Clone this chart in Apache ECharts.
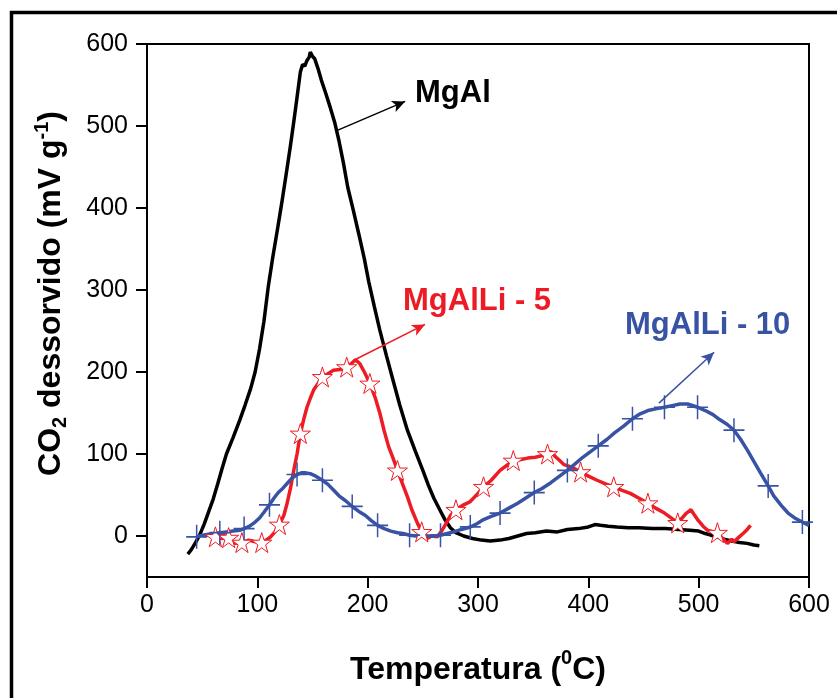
<!DOCTYPE html>
<html>
<head>
<meta charset="utf-8">
<script src="https://cdn.jsdelivr.net/npm/echarts@6/dist/echarts.min.js"></script>
<style>
  html, body { margin: 0; padding: 0; background: #fff; }
  #chart { width: 837px; height: 698px; }
</style>
</head>
<body>
<div id="chart"></div>
<script>
// Axis ticks
const xTicks = [0, 100, 200, 300, 400, 500, 600];
const yTicks = [0, 100, 200, 300, 400, 500, 600];

// CO2 TPD profiles: [temperature (°C), signal (mV g-1)]
const mgAl = [
  [37,-22],[40,-17],[44,-8],[48,2],[52,15],[56,30],[60,45],[64,63],[68,82],[72,100],
  [78,120],[84,141],[89,160],[94,180],[98,200],[102,228],[106,262],[110,305],[114,340],
  [118,372],[122,405],[126,440],[130,476],[133,505],[136,535],[139,566],[141,575],[143,573],
  [145,580],[147,584],[148,590],[150,585],[152,582],[155,570],[158,556],[162,540],[166,523],
  [170,505],[174,482],[178,455],[182,425],[187,397],[192,368],[197,338],[201,310],[206,280],
  [211,251],[217,220],[223,190],[229,160],[236,129],[243,104],[250,80],[255,62],[260,46],
  [265,33],[270,20],[275,10],[280,4],[287,0],[295,-3],[303,-5],[311,-6],[320,-5],[328,-3],
  [336,0],[344,3],[352,4],[362,6],[372,5],[381,8],[391,9],[400,11],[406,14],[411,13],
  [418,12],[426,11],[436,10],[446,10],[458,9],[470,9],[482,8],[492,7],[500,6],[506,3],
  [511,1],[517,-1],[523,-4],[530,-6],[537,-8],[544,-9],[550,-11],[555,-12]
];

const mgAlLi5 = [
  [51,0],[56,2],[62,-1],[68,-3],[74,-2],[80,-9],[86,-8],[92,-5],[98,-7],[104,-8],
  [108,-5],[112,-1],[116,5],[120,14],[124,25],[127,40],[130,58],[133,80],[136,100],
  [139,125],[142,142],[145,157],[148,168],[151,178],[155,186],[159,194],[164,198],
  [169,202],[175,203],[181,206],[185,210],[189,215],[193,210],[197,200],[202,186],
  [207,168],[211,150],[215,128],[219,109],[223,95],[227,80],[232,62],[236,48],[240,32],
  [245,16],[249,5],[254,-3],[258,0],[263,-1],[267,6],[271,15],[275,25],[280,32],[287,38],
  [293,42],[300,52],[305,60],[312,68],[320,80],[326,86],[332,92],[338,93],[345,95],
  [352,96],[358,98],[363,100],[366,103],[370,97],[374,92],[378,87],[385,84],[393,78],
  [400,73],[408,68],[415,64],[423,60],[430,56],[438,52],[446,46],[454,40],[461,34],
  [469,28],[475,22],[481,16],[485,22],[489,28],[493,32],[496,26],[499,20],[504,12],
  [508,7],[513,5],[517,4],[521,-2],[526,-9],[530,-4],[532,-7],[536,-2],[541,4],[544,8],[547,13]
];

const mgAlLi10 = [
  [45,-1],[50,1],[56,2],[61,3],[66,4],[72,5],[78,6],[84,7],[88,9],[93,12],[98,17],
  [102,22],[106,29],[111,38],[115,46],[119,53],[123,58],[127,64],[131,70],[136,75],
  [140,77],[144,77],[148,76],[153,73],[159,68],[164,63],[169,56],[174,49],[180,43],
  [186,36],[192,30],[198,25],[203,19],[209,13],[215,9],[221,6],[227,4],[232,3],[238,1],
  [244,0],[250,0],[256,0],[261,0],[266,1],[272,3],[278,5],[285,8],[293,11],[299,15],
  [305,20],[312,24],[320,28],[328,34],[336,40],[343,46],[351,53],[358,58],[366,65],
  [373,72],[381,80],[388,88],[395,96],[402,103],[409,110],[417,118],[424,126],[432,134],
  [440,143],[447,149],[454,153],[461,155],[469,157],[476,159],[483,161],[490,161],
  [499,157],[506,153],[513,148],[519,142],[526,136],[532,129],[538,118],[544,105],
  [550,91],[556,77],[563,61],[568,49],[575,37],[581,28],[587,22],[594,17],[600,13]
];

// Temperatures carrying the series markers
const mgAlLi5Stars = [62,74,86,104,120,139,159,181,202,227,249,280,305,332,363,393,423,454,481,517];
const mgAlLi10Crosses = [45,66,88,111,136,159,186,209,238,266,293,320,351,381,409,440,469,499,532,563,594];

const RED = '#ED1C24';
const BLUE = '#3953A4';
const STAR = 'path://M10,0L12.245,6.91L19.511,6.91L13.633,11.18L15.878,18.09L10,13.82L4.122,18.09L6.367,11.18L0.489,6.91L7.755,6.91Z';
const CROSS = 'path://M0,10L20,10M10,0L10,20';
const FONT = 'Liberation Sans';

function withMarkers(points, temps, symbol, size, style) {
  const marked = new Set(temps);
  return points.map(p => marked.has(p[0])
    ? { value: p, symbol: symbol, symbolSize: size, itemStyle: style }
    : { value: p, symbol: 'none' });
}

function arrow(color, from, to) {
  return {
    silent: true,
    symbol: ['none', 'arrow'],
    symbolSize: [9, 13],
    lineStyle: { color: color, width: 1.5, type: 'solid' },
    label: { show: false },
    data: [[{ coord: from }, { coord: to }]]
  };
}

const chart = echarts.init(document.getElementById('chart'), null, { renderer: 'canvas' });

const axisFont = { fontFamily: FONT, fontSize: 25, color: '#000' };
const titleRich = (size, align) => ({ fontFamily: FONT, fontWeight: 'bold', fontSize: size, color: '#000', lineHeight: 38, verticalAlign: align });

chart.setOption({
  animation: false,
  backgroundColor: '#fff',
  grid: {
    left: 147, right: 28, top: 44, bottom: 121,
    show: true, borderColor: '#000', borderWidth: 2, backgroundColor: 'transparent'
  },
  xAxis: {
    type: 'value', min: 0, max: 600, interval: 100,
    axisLine: { show: true, onZero: false, lineStyle: { color: '#000', width: 2 } },
    axisTick: { show: true, inside: false, length: 11, lineStyle: { color: '#000', width: 2 }, customValues: xTicks },
    axisLabel: { ...axisFont, margin: 16, customValues: xTicks },
    splitLine: { show: false },
    name: '{t|Temperatura (}{s|0}{t|C)}',
    nameLocation: 'middle',
    nameGap: 71,
    nameTextStyle: {
      rich: { t: titleRich(32, 'bottom'), s: titleRich(20, 'top') }
    }
  },
  yAxis: {
    type: 'value', min: -50, max: 600,
    axisLine: { show: true, onZero: false, lineStyle: { color: '#000', width: 2 } },
    axisTick: { show: true, inside: false, length: 11, lineStyle: { color: '#000', width: 2 }, customValues: yTicks },
    axisLabel: { ...axisFont, margin: 19, customValues: yTicks },
    splitLine: { show: false },
    name: '{t|CO}{b|2}{t| dessorvido (mV g}{s|-1}{t|)}',
    nameLocation: 'middle',
    nameGap: 77,
    nameRotate: 90,
    nameTextStyle: {
      padding: [0, 0, 0, 34],
      rich: { t: titleRich(32, 'middle'), b: titleRich(20, 'bottom'), s: titleRich(20, 'top') }
    }
  },
  series: [
    {
      name: 'MgAl', type: 'line', data: mgAl,
      symbol: 'none', lineStyle: { color: '#000', width: 3.5 },
      markLine: arrow('#000', [173, 495], [234, 530])
    },
    {
      name: 'MgAlLi - 5', type: 'line',
      data: withMarkers(mgAlLi5, mgAlLi5Stars, STAR, 20, { color: '#fff', borderColor: RED, borderWidth: 1 }),
      showAllSymbol: true,
      lineStyle: { color: RED, width: 3.5 }, itemStyle: { color: RED },
      markLine: arrow(RED, [187, 214], [252, 258])
    },
    {
      name: 'MgAlLi - 10', type: 'line',
      data: withMarkers(mgAlLi10, mgAlLi10Crosses, CROSS, [21, 24], { color: BLUE, borderColor: BLUE, borderWidth: 1.6 }),
      showAllSymbol: true,
      lineStyle: { color: BLUE, width: 3.5 }, itemStyle: { color: BLUE },
      markLine: arrow(BLUE, [464, 162], [514, 224])
    }
  ],
  graphic: [
    // page frame
    { type: 'rect', shape: { x: 11.5, y: 12.5, width: 900, height: 800 },
      style: { fill: 'none', stroke: '#000', lineWidth: 3.5 }, silent: true },
    { type: 'text', x: 415, y: 93, style: { text: 'MgAl', fill: '#000',
      font: 'bold 31px "Liberation Sans"', verticalAlign: 'middle' } },
    { type: 'text', x: 403, y: 301, style: { text: 'MgAlLi - 5', fill: RED,
      font: 'bold 31px "Liberation Sans"', verticalAlign: 'middle' } },
    { type: 'text', x: 625, y: 325, style: { text: 'MgAlLi - 10', fill: BLUE,
      font: 'bold 31px "Liberation Sans"', verticalAlign: 'middle' } }
  ]
});
</script>
</body>
</html>
